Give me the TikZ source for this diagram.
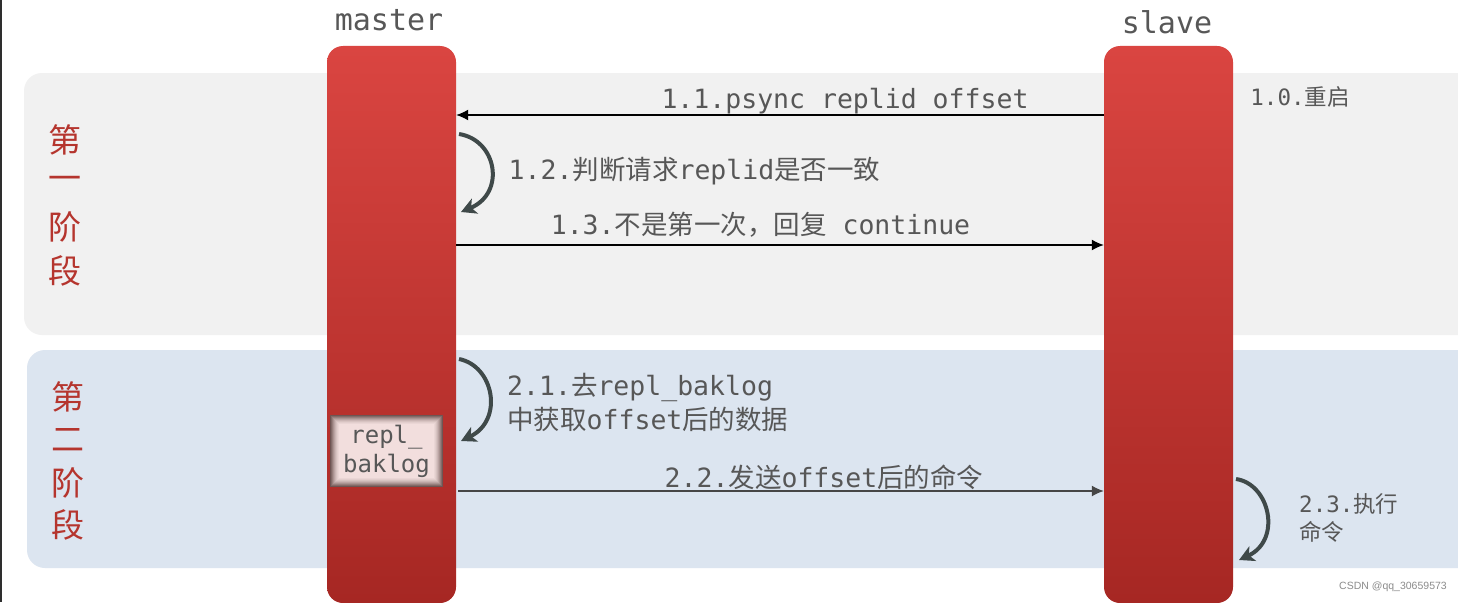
\documentclass[tikz,border=0pt]{standalone}
\usepackage{fontspec}
\setmainfont{DejaVu Sans Mono}
\newfontfamily\cjk{Noto Sans CJK SC}
\newfontfamily\wmfont{Liberation Sans}
\usetikzlibrary{arrows.meta}
\definecolor{txt}{HTML}{575757}
\definecolor{stagec}{HTML}{B5352E}
\definecolor{bandone}{HTML}{F1F1F1}
\definecolor{bandtwo}{HTML}{DCE5F0}
\definecolor{bartop}{HTML}{DA4541}
\definecolor{barbot}{HTML}{A62723}
\definecolor{loopc}{HTML}{3F4949}
\definecolor{edgec}{HTML}{2E2E2E}
\definecolor{rbone}{HTML}{6E5553}
\definecolor{rbfill}{HTML}{F2DEDD}
\begin{document}
\begin{tikzpicture}[x=1pt,y=-1pt,
  bar/.style={rounded corners=16pt, top color=bartop, bottom color=barbot,
    minimum width=129pt, minimum height=557pt, inner sep=0pt},
  lbl/.style={text=txt, font=\fontsize{26.5}{32}\selectfont, inner sep=0pt},
  small/.style={text=txt, font=\fontsize{22.5}{28}\selectfont, inner sep=0pt},
  msg/.style={-{Latex[length=12pt,width=11pt]}, line width=1.4pt},
  loop/.style={line width=4pt, draw=loopc, -{Stealth[length=15pt,width=16pt,inset=4pt]}},
  stage/.style={text=stagec, font=\cjk\fontsize{33}{36}\selectfont, inner sep=0pt},
  rbox/.style={minimum width=113pt, minimum height=72pt, inner sep=0pt, fill=rbone,
    text=txt, font=\fontsize{24}{28}\selectfont, align=center,
    path picture={
      \foreach \d/\p in {1/15,2/30,3/45,4/58,5/70,6/80,7/88,8/94,9/100}{
        \fill[rbfill!\p!rbone] ([xshift=\d pt,yshift=-\d pt]path picture bounding box.north west)
          rectangle ([xshift=-\d pt,yshift=\d pt]path picture bounding box.south east);}
    }}
]
\useasboundingbox (0,0) rectangle (1458,602);
\fill[white] (0,0) rectangle (1458,602);
\draw[line width=1.6pt, draw=edgec] (0.8,0) -- (0.8,602);

% bands
\fill[bandone, rounded corners=18pt] (24,73) rectangle (1490,335);
\fill[bandtwo, rounded corners=18pt] (27,350) rectangle (1490,568);

% lifelines
\node[bar] (master) at (391.5,324.5) {};
\node[bar] (slave) at (1168.5,324.5) {};
\node[lbl, font=\fontsize{30}{34}\selectfont] (mt) at (389,20) {master};
\node[lbl, font=\fontsize{30}{34}\selectfont] (st) at (1167,22) {slave};

% stage labels
\node[stage] (s1a) at (65,140) {第};
\node[stage] (s1b) at (65,183) {一};
\node[stage] (s1c) at (65,227) {阶};
\node[stage] (s1d) at (65,271) {段};
\node[stage] (s2a) at (68,397) {第};
\node[stage] (s2b) at (68,440) {二};
\node[stage] (s2c) at (68,483) {阶};
\node[stage] (s2d) at (68,525) {段};

% stage 1
\node[small] (t10) at (1300,97) {1.0.{\cjk 重启}};
\draw[msg] (slave.west |- 0,115) -- (master.east |- 0,115);
\node[lbl] (t11) at (845,101) {1.1.psync replid offset};

\coordinate (l12a) at (459,134);
\coordinate (l12b) at (461,212);
\draw[loop] (l12a) .. controls (497,140) and (506,193) .. (l12b);
\node[lbl] (t12) at (694.5,171) {1.2.{\cjk 判断请求}replid{\cjk 是否一致}};

\draw[msg] (master.east |- 0,245) -- (slave.west |- 0,245);
\node[lbl] (t13) at (760.5,225) {1.3.{\cjk 不是第一次，回复} continue};

% stage 2
\coordinate (l21a) at (459,359);
\coordinate (l21b) at (461,441);
\draw[loop] (l21a) .. controls (494,366) and (504,420) .. (l21b);
\node[lbl, anchor=west] (t21a) at (507,387) {2.1.{\cjk 去}repl\_baklog};
\node[lbl, anchor=west] (t21b) at (507,419) {{\cjk 中获取}offset{\cjk 后的数据}};

\node[rbox] (rb) at (386.5,451) {repl\_\\[1pt]baklog};

\coordinate (m22) at (458,491);
\draw[msg, draw=txt!80!black] (m22) -- (slave.west |- m22);
\node[lbl] (t22) at (824,477) {2.2.{\cjk 发送}offset{\cjk 后的命令}};

\coordinate (l23a) at (1236,479);
\coordinate (l23b) at (1239,560);
\draw[loop] (l23a) .. controls (1270,484) and (1282,540) .. (l23b);
\node[small, anchor=west] (t23a) at (1299,504) {2.3.{\cjk 执行}};
\node[small, anchor=west] (t23b) at (1299,532) {{\cjk 命令}};

\node[text=black!45, font=\wmfont\fontsize{10.5}{12}\selectfont, inner sep=0pt] (wm) at (1393,587) {CSDN @qq\_30659573};
\end{tikzpicture}
\end{document}
